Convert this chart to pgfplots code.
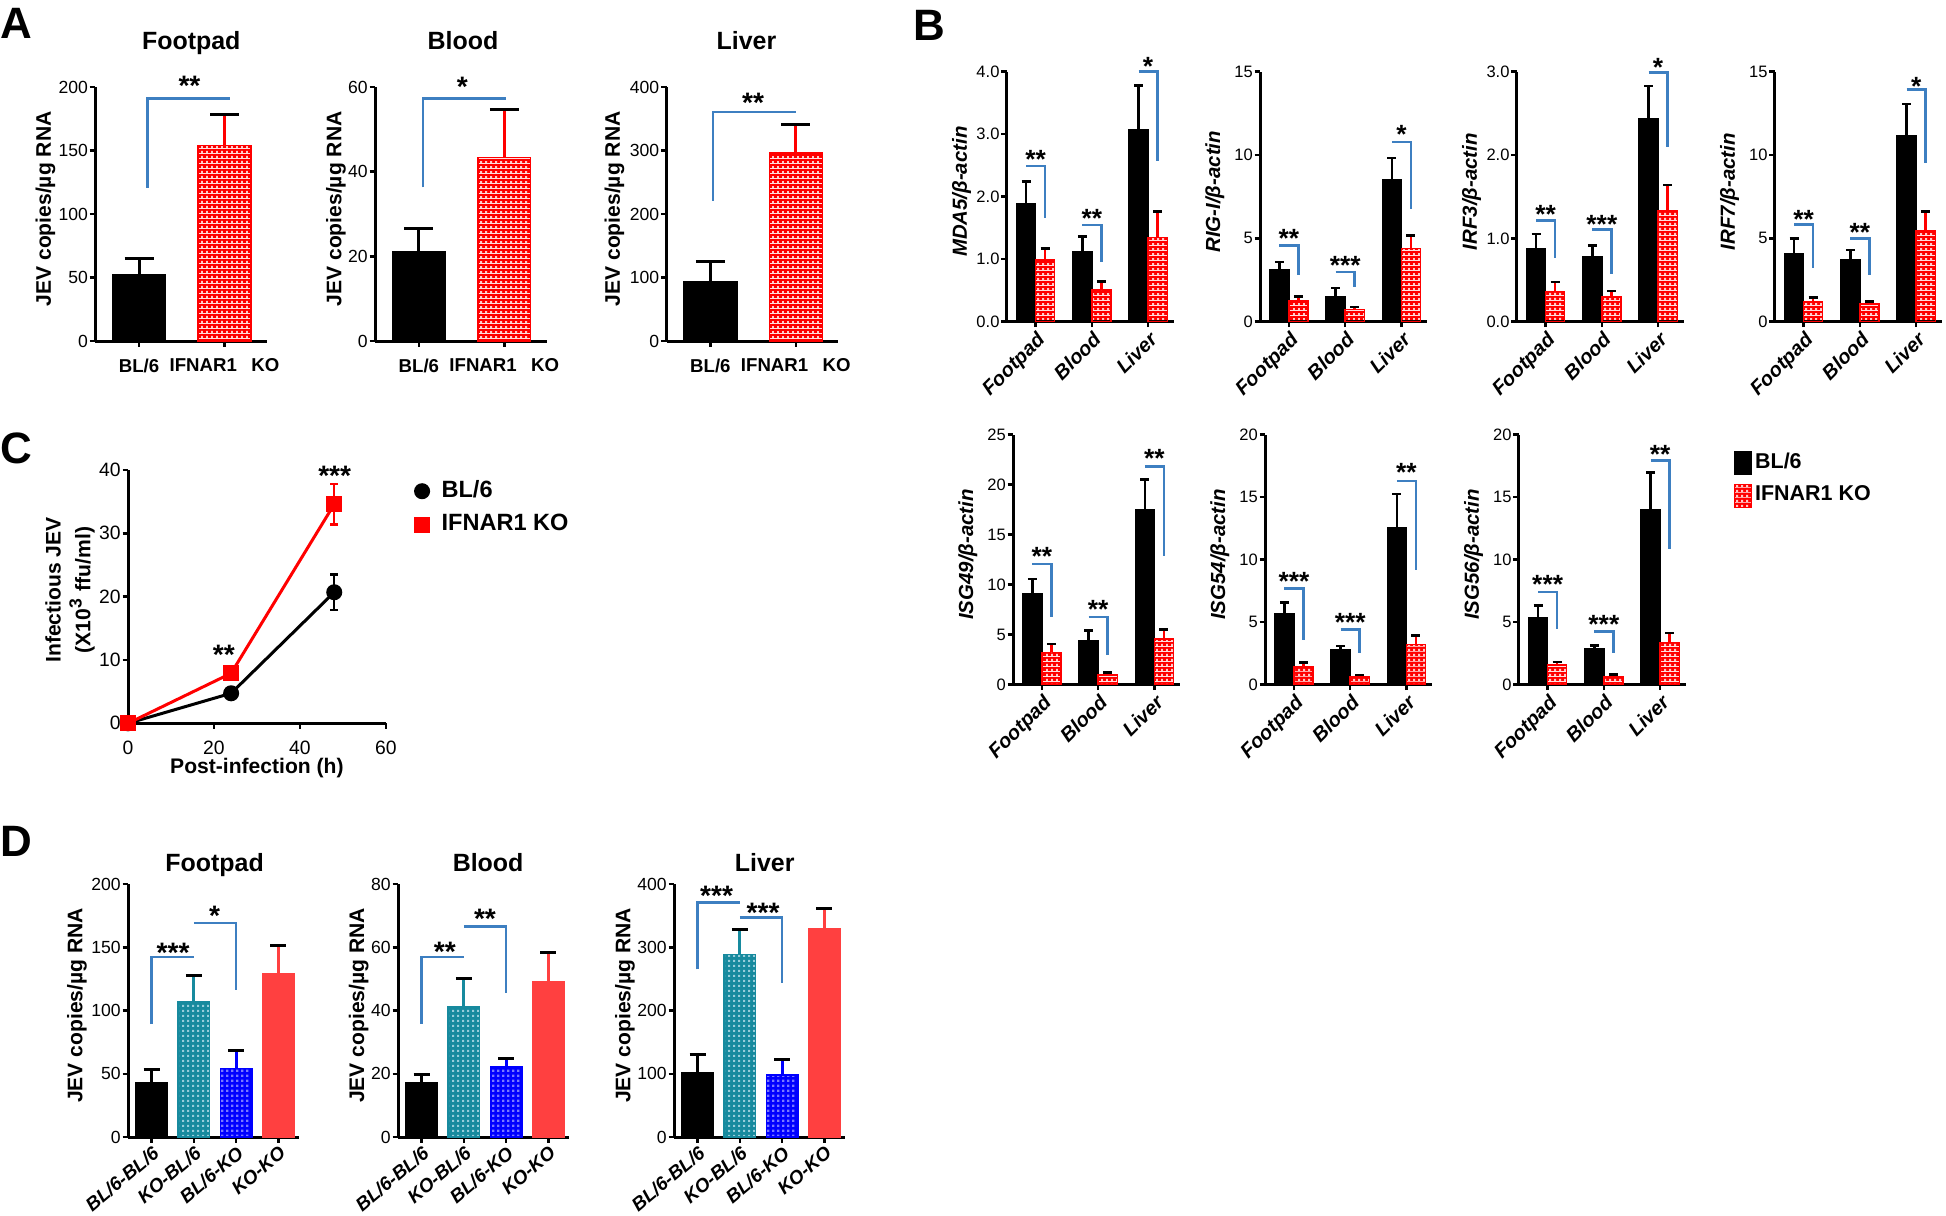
\documentclass[border=0pt]{standalone}
\usepackage{fontspec}
\setmainfont{Liberation Sans}
\usepackage{pgfplots}
\pgfplotsset{compat=1.18}
\usetikzlibrary{patterns}

\newcommand{\fs}[1]{\fontsize{#1pt}{#1pt}\selectfont}

\definecolor{brk}{RGB}{61,127,193}
\definecolor{tealb}{RGB}{23,138,158}
\definecolor{dred}{RGB}{255,64,64}
\definecolor{dblue}{RGB}{0,0,255}
\definecolor{redl}{RGB}{255,200,200}
\definecolor{teall}{RGB}{150,205,218}
\definecolor{bluel}{RGB}{120,120,255}

% checkered fills (colour + light squares)
\pgfdeclarepatterninherentlycolored{redchk}{\pgfpointorigin}{\pgfqpoint{1.3pt}{1.3pt}}{\pgfqpoint{1.3pt}{1.3pt}}{%
  \pgfsetfillcolor{red}\pgfpathrectangle{\pgfpointorigin}{\pgfqpoint{1.3pt}{1.3pt}}\pgfusepath{fill}%
  \pgfsetfillcolor{redl}\pgfpathrectangle{\pgfpointorigin}{\pgfqpoint{0.62pt}{0.62pt}}\pgfusepath{fill}}
\pgfdeclarepatterninherentlycolored{tealchk}{\pgfpointorigin}{\pgfqpoint{1.4pt}{1.4pt}}{\pgfqpoint{1.4pt}{1.4pt}}{%
  \pgfsetfillcolor{tealb}\pgfpathrectangle{\pgfpointorigin}{\pgfqpoint{1.4pt}{1.4pt}}\pgfusepath{fill}%
  \pgfsetfillcolor{teall}\pgfpathrectangle{\pgfpointorigin}{\pgfqpoint{0.62pt}{0.62pt}}\pgfusepath{fill}}
\pgfdeclarepatterninherentlycolored{bluechk}{\pgfpointorigin}{\pgfqpoint{1.4pt}{1.4pt}}{\pgfqpoint{1.4pt}{1.4pt}}{%
  \pgfsetfillcolor{dblue}\pgfpathrectangle{\pgfpointorigin}{\pgfqpoint{1.4pt}{1.4pt}}\pgfusepath{fill}%
  \pgfsetfillcolor{bluel}\pgfpathrectangle{\pgfpointorigin}{\pgfqpoint{0.65pt}{0.65pt}}\pgfusepath{fill}}

\tikzset{
  brk/.style={draw=brk, line width=0.25mm},
  stA/.style={font=\fs{8}\bfseries, anchor=base, inner sep=0pt, yshift=-1.63mm},
  stB/.style={font=\fs{7.5}\bfseries, anchor=base, inner sep=0pt, yshift=-1.53mm},
  plet/.style={font=\fs{12.5}\bfseries, anchor=north west, inner sep=0pt},
}

\pgfplotsset{
  com/.style={scale only axis, axis lines=left, axis line style={-,line width=0.3mm},
    tick align=outside, major tick length=0.55mm, tick style={black,line width=0.25mm},
    clip=false, /pgf/number format/assume math mode=true,
    tick label style={font=\fs{5}}, yticklabel style={inner sep=0.3pt}, ymin=0,
    every axis title shift=0pt,
    title style={anchor=base, font=\fs{7.1}\bfseries},
    ylabel style={anchor=center, font=\fs{6}\bfseries}},
  bars/.style={ybar, every axis plot/.append style={/pgfplots/error bars/y dir=plus, /pgfplots/error bars/y explicit}},
  pA/.style={com, bars, width=17.15mm, height=25.4mm, xmin=-0.514, xmax=1.494,
    xtick={0,1}, xticklabels={BL/6,IFNAR1\hspace{0.78em}KO},
    xticklabel style={font=\fs{5.3}\bfseries}, bar width=0.62,
    ylabel={JEV copies/µg RNA},
    every axis plot/.append style={/pgfplots/error bars/error bar style={line width=0.3mm},
      /pgfplots/error bars/error mark options={rotate=90,mark size=1.45mm,line width=0.3mm}}},
  pB/.style={com, bars, width=16.7mm, height=25.0mm, xmin=-0.514, xmax=2.455,
    xtick={0,1,2}, xticklabels={Footpad,Blood,Liver},
    tick label style={font=\fs{4.7}},
    xticklabel style={rotate=45, anchor=north east, inner sep=0.5pt, font=\fs{5.7}\bfseries\itshape},
    ylabel style={font=\fs{5.8}\bfseries\itshape, at={(axis description cs:-0.27,0.52)}},
    bar width=0.34,
    every axis plot/.append style={/pgfplots/error bars/error bar style={line width=0.25mm},
      /pgfplots/error bars/error mark options={rotate=90,mark size=0.45mm,line width=0.25mm}}},
  pD/.style={com, bars, width=17.1mm, height=25.3mm, xmin=-0.556, xmax=3.487,
    xtick={0,1,2,3}, xticklabels={BL/6-BL/6,KO-BL/6,BL/6-KO,KO-KO},
    xticklabel style={rotate=40, anchor=north east, inner sep=0.3pt, font=\fs{5.4}\bfseries\itshape},
    bar width=0.745, ylabel={JEV copies/µg RNA},
    every axis plot/.append style={/pgfplots/error bars/error bar style={line width=0.3mm},
      /pgfplots/error bars/error mark options={rotate=90,mark size=0.8mm,line width=0.3mm}}},
  dec1/.style={yticklabel style={/pgf/number format/.cd, fixed, fixed zerofill, precision=1}},
}

\begin{document}
\begin{tikzpicture}
\path (0,0) rectangle (194.6mm,-121.5mm);

\node[plet] at (0mm,-0.8mm) {A};
\node[plet] at (91.3mm,-1.0mm) {B};
\node[plet] at (0mm,-43.2mm) {C};
\node[plet] at (0mm,-82.6mm) {D};

% ---------- A ----------
\begin{axis}[pA, at={(9.52mm,-8.7mm)}, anchor=north west, ymax=200, ytick={0,50,100,150,200},
  title=Footpad, title style={at={(axis description cs:0.56,1.146)}},
  ylabel style={at={(axis description cs:-0.29,0.52)}}]
\addplot[fill=black, draw=black, bar shift=0] coordinates {(0,52.6) +- (0,12.4)};
\addplot[pattern=redchk, draw=red, bar shift=0] coordinates {(1,154) +- (0,24.7)};
\draw[brk] (axis cs:0.1,120.8) |- (axis cs:1.07,191);
\node[stA] at (axis cs:0.59,205.8) {**};
\end{axis}

\begin{axis}[pA, at={(37.5mm,-8.7mm)}, anchor=north west, ymax=60, ytick={0,20,40,60},
  title=Blood, title style={at={(axis description cs:0.513,1.146)}},
  ylabel style={at={(axis description cs:-0.227,0.52)}}]
\addplot[fill=black, draw=black, bar shift=0] coordinates {(0,21.2) +- (0,5.4)};
\addplot[pattern=redchk, draw=red, bar shift=0] coordinates {(1,43.3) +- (0,11.5)};
\draw[brk] (axis cs:0.05,36.3) |- (axis cs:1.02,57.3);
\node[stA] at (axis cs:0.51,61.7) {*};
\end{axis}

\begin{axis}[pA, at={(66.65mm,-8.7mm)}, anchor=north west, ymax=400, ytick={0,100,200,300,400},
  title=Liver, title style={at={(axis description cs:0.466,1.146)}},
  ylabel style={at={(axis description cs:-0.303,0.52)}}]
\addplot[fill=black, draw=black, bar shift=0] coordinates {(0,92.7) +- (0,32.3)};
\addplot[pattern=redchk, draw=red, bar shift=0] coordinates {(1,296) +- (0,45)};
\draw[brk] (axis cs:0.03,221) |- (axis cs:1.0,361);
\node[stA] at (axis cs:0.5,386) {**};
\end{axis}

% ---------- B, row 1 ----------
\begin{axis}[pB, dec1, at={(100.67mm,-7.17mm)}, anchor=north west, ymax=4, ytick={0,1,2,3,4},
  ylabel={MDA5/β-actin}]
\addplot[fill=black, draw=black, bar shift=-0.17] coordinates {(0,1.89) +- (0,0.35) (1,1.12) +- (0,0.24) (2,3.07) +- (0,0.71)};
\addplot[pattern=redchk, draw=red, bar shift=0.17] coordinates {(0,0.99) +- (0,0.18) (1,0.505) +- (0,0.135) (2,1.35) +- (0,0.41)};
\draw[brk] (axis cs:-0.17,2.49) -| (axis cs:0.17,1.66);
\draw[brk] (axis cs:0.83,1.55) -| (axis cs:1.17,0.95);
\draw[brk] (axis cs:1.83,4.0) -| (axis cs:2.17,2.57);
\node[stB] at (axis cs:0,2.7) {**};
\node[stB] at (axis cs:1,1.76) {**};
\node[stB] at (axis cs:2,4.19) {*};
\end{axis}

\begin{axis}[pB, at={(126.0mm,-7.17mm)}, anchor=north west, ymax=15, ytick={0,5,10,15},
  ylabel={RIG-I/β-actin}]
\addplot[fill=black, draw=black, bar shift=-0.17] coordinates {(0,3.14) +- (0,0.44) (1,1.5) +- (0,0.52) (2,8.5) +- (0,1.32)};
\addplot[pattern=redchk, draw=red, bar shift=0.17] coordinates {(0,1.26) +- (0,0.24) (1,0.72) +- (0,0.16) (2,4.4) +- (0,0.78)};
\draw[brk] (axis cs:-0.17,4.56) -| (axis cs:0.17,2.78);
\draw[brk] (axis cs:0.83,2.98) -| (axis cs:1.17,2.1);
\draw[brk] (axis cs:1.83,10.78) -| (axis cs:2.17,6.78);
\node[stB] at (axis cs:0,5.36) {**};
\node[stB] at (axis cs:1,3.78) {***};
\node[stB] at (axis cs:2,11.6) {*};
\end{axis}

\begin{axis}[pB, dec1, at={(151.67mm,-7.17mm)}, anchor=north west, ymax=3, ytick={0,1,2,3},
  ylabel={IRF3/β-actin}]
\addplot[fill=black, draw=black, bar shift=-0.17] coordinates {(0,0.88) +- (0,0.17) (1,0.784) +- (0,0.132) (2,2.44) +- (0,0.39)};
\addplot[pattern=redchk, draw=red, bar shift=0.17] coordinates {(0,0.364) +- (0,0.112) (1,0.296) +- (0,0.072) (2,1.33) +- (0,0.31)};
\draw[brk] (axis cs:-0.17,1.216) -| (axis cs:0.17,0.768);
\draw[brk] (axis cs:0.83,1.104) -| (axis cs:1.17,0.572);
\draw[brk] (axis cs:1.83,2.99) -| (axis cs:2.17,2.1);
\node[stB] at (axis cs:0,1.36) {**};
\node[stB] at (axis cs:1,1.24) {***};
\node[stB] at (axis cs:2,3.13) {*};
\end{axis}

\begin{axis}[pB, at={(177.47mm,-7.17mm)}, anchor=north west, ymax=15, ytick={0,5,10,15},
  ylabel={IRF7/β-actin}]
\addplot[fill=black, draw=black, bar shift=-0.17] coordinates {(0,4.1) +- (0,0.88) (1,3.74) +- (0,0.56) (2,11.14) +- (0,1.92)};
\addplot[pattern=redchk, draw=red, bar shift=0.17] coordinates {(0,1.2) +- (0,0.26) (1,1.06) +- (0,0.14) (2,5.44) +- (0,1.16)};
\draw[brk] (axis cs:-0.17,5.82) -| (axis cs:0.17,3.2);
\draw[brk] (axis cs:0.83,5.0) -| (axis cs:1.17,2.78);
\draw[brk] (axis cs:1.83,13.92) -| (axis cs:2.17,9.5);
\node[stB] at (axis cs:0,6.52) {**};
\node[stB] at (axis cs:1,5.72) {**};
\node[stB] at (axis cs:2,14.52) {*};
\end{axis}

% ---------- B, row 2 ----------
\begin{axis}[pB, at={(101.3mm,-43.45mm)}, anchor=north west, ymax=25, ytick={0,5,10,15,20,25},
  ylabel={ISG49/β-actin}]
\addplot[fill=black, draw=black, bar shift=-0.17] coordinates {(0,9.08) +- (0,1.49) (1,4.42) +- (0,0.97) (2,17.52) +- (0,2.98)};
\addplot[pattern=redchk, draw=red, bar shift=0.17] coordinates {(0,3.22) +- (0,0.84) (1,0.96) +- (0,0.24) (2,4.55) +- (0,0.94)};
\draw[brk] (axis cs:-0.17,12.07) -| (axis cs:0.17,6.8);
\draw[brk] (axis cs:0.83,6.75) -| (axis cs:1.17,3.0);
\draw[brk] (axis cs:1.83,21.8) -| (axis cs:2.17,12.9);
\node[stB] at (axis cs:0,13.4) {**};
\node[stB] at (axis cs:1,8.15) {**};
\node[stB] at (axis cs:2,23.2) {**};
\end{axis}

\begin{axis}[pB, at={(126.5mm,-43.45mm)}, anchor=north west, ymax=20, ytick={0,5,10,15,20},
  ylabel={ISG54/β-actin}]
\addplot[fill=black, draw=black, bar shift=-0.17] coordinates {(0,5.69) +- (0,0.88) (1,2.79) +- (0,0.3) (2,12.53) +- (0,2.71)};
\addplot[pattern=redchk, draw=red, bar shift=0.17] coordinates {(0,1.46) +- (0,0.32) (1,0.585) +- (0,0.16) (2,3.19) +- (0,0.72)};
\draw[brk] (axis cs:-0.17,7.69) -| (axis cs:0.17,3.56);
\draw[brk] (axis cs:0.83,4.39) -| (axis cs:1.17,2.53);
\draw[brk] (axis cs:1.83,16.28) -| (axis cs:2.17,9.18);
\node[stB] at (axis cs:0,8.78) {***};
\node[stB] at (axis cs:1,5.43) {***};
\node[stB] at (axis cs:2,17.47) {**};
\end{axis}

\begin{axis}[pB, at={(151.87mm,-43.45mm)}, anchor=north west, ymax=20, ytick={0,5,10,15,20},
  ylabel={ISG56/β-actin},
  legend style={at={(axis description cs:1.283,0.945)}, anchor=north west, draw=none, fill=none,
    inner sep=0pt, font=\fs{6.1}\bfseries, row sep=0.55mm, nodes={inner sep=0.35mm}},
  legend cell align=left,
  legend image code/.code={\draw[#1,line width=0.1mm] (0mm,-1.15mm) rectangle (1.7mm,1.15mm);}]
\addplot[fill=black, draw=black, bar shift=-0.17] coordinates {(0,5.33) +- (0,1.01) (1,2.84) +- (0,0.29) (2,13.98) +- (0,2.97)};
\addlegendentry{BL/6}
\addplot[pattern=redchk, draw=red, bar shift=0.17] coordinates {(0,1.56) +- (0,0.24) (1,0.64) +- (0,0.18) (2,3.37) +- (0,0.74)};
\addlegendentry{IFNAR1 KO}
\draw[brk] (axis cs:-0.17,7.4) -| (axis cs:0.17,4.43);
\draw[brk] (axis cs:0.83,4.24) -| (axis cs:1.17,2.49);
\draw[brk] (axis cs:1.83,17.93) -| (axis cs:2.17,10.88);
\node[stB] at (axis cs:0,8.49) {***};
\node[stB] at (axis cs:1,5.3) {***};
\node[stB] at (axis cs:2,18.94) {**};
\end{axis}

% ---------- C ----------
\begin{axis}[com, at={(12.8mm,-47.0mm)}, anchor=north west, width=25.78mm, height=25.33mm,
  xmin=0, xmax=60, ymax=40, xtick={0,20,40,60}, ytick={0,10,20,30,40},
  tick label style={font=\fs{5.5}},
  xlabel={Post-infection (h)},
  xlabel style={font=\fs{6}\bfseries, at={(axis description cs:0.5,-0.135)}, anchor=north, inner sep=0pt},
  ylabel={Infectious JEV\\(X10\textsuperscript{3} ffu/ml)},
  ylabel style={align=center, font=\fontsize{6pt}{8.5pt}\selectfont\bfseries, at={(axis description cs:-0.225,0.526)}},
  legend style={at={(axis description cs:1.105,0.975)}, anchor=north west, draw=none, fill=none,
    inner sep=0pt, font=\fs{6.7}\bfseries, row sep=0.6mm, nodes={inner sep=0.3mm}},
  legend cell align=left,
  legend image code/.code={\path[#1] plot[only marks] coordinates {(0.7mm,0mm)}; \path (0mm,0mm) (2.2mm,0mm);}]
\addplot[black, line width=0.3mm, mark=*, mark size=0.65mm,
  error bars/.cd, y dir=both, y explicit, error bar style={line width=0.25mm},
  error mark options={rotate=90,mark size=0.4mm,line width=0.25mm}]
  coordinates {(0,0) +- (0,0) (24,4.74) +- (0,0.3) (48,20.7) +- (0,2.8)};
\addlegendentry{BL/6}
\addplot[red, line width=0.3mm, mark=square*, mark size=0.65mm,
  error bars/.cd, y dir=both, y explicit, error bar style={line width=0.25mm},
  error mark options={rotate=90,mark size=0.4mm,line width=0.25mm}]
  coordinates {(0,0) +- (0,0) (24,7.9) +- (0,0.9) (48,34.6) +- (0,3.2)};
\addlegendentry{IFNAR1 KO}
\node[stA] at (axis cs:22.3,11.8) {**};
\node[stA] at (axis cs:48.1,40.1) {***};
\end{axis}

% ---------- D ----------
\begin{axis}[pD, at={(12.8mm,-88.4mm)}, anchor=north west, ymax=200, ytick={0,50,100,150,200},
  title=Footpad, title style={at={(axis description cs:0.506,1.05)}},
  ylabel style={at={(axis description cs:-0.298,0.52)}}]
\addplot[fill=black, draw=black, bar shift=0] coordinates {(0,43) +- (0,10.6)};
\addplot[pattern=tealchk, draw=tealb, bar shift=0] coordinates {(1,106.9) +- (0,20.8)};
\addplot[pattern=bluechk, draw=dblue, bar shift=0] coordinates {(2,54.1) +- (0,14.5)};
\addplot[fill=dred, draw=dred, bar shift=0] coordinates {(3,129) +- (0,22.2)};
\draw[brk] (axis cs:0,89.2) |- (axis cs:1,142.5);
\draw[brk] (axis cs:1,169) -| (axis cs:2,116.4);
\node[stA] at (axis cs:0.51,151) {***};
\node[stA] at (axis cs:1.49,180) {*};
\end{axis}

\begin{axis}[pD, at={(39.8mm,-88.4mm)}, anchor=north west, ymax=80, ytick={0,20,40,60,80},
  title=Blood, title style={at={(axis description cs:0.527,1.05)}},
  ylabel style={at={(axis description cs:-0.229,0.52)}}]
\addplot[fill=black, draw=black, bar shift=0] coordinates {(0,17.2) +- (0,2.7)};
\addplot[pattern=tealchk, draw=tealb, bar shift=0] coordinates {(1,41.1) +- (0,8.95)};
\addplot[pattern=bluechk, draw=dblue, bar shift=0] coordinates {(2,22.2) +- (0,2.7)};
\addplot[fill=dred, draw=dred, bar shift=0] coordinates {(3,49.1) +- (0,9.1)};
\draw[brk] (axis cs:0,35.8) |- (axis cs:1,56.9);
\draw[brk] (axis cs:1,66.6) -| (axis cs:2,45.5);
\node[stA] at (axis cs:0.55,60.5) {**};
\node[stA] at (axis cs:1.5,71) {**};
\end{axis}

\begin{axis}[pD, at={(67.4mm,-88.4mm)}, anchor=north west, ymax=400, ytick={0,100,200,300,400},
  title=Liver, title style={at={(axis description cs:0.53,1.05)}},
  ylabel style={at={(axis description cs:-0.287,0.52)}}]
\addplot[fill=black, draw=black, bar shift=0] coordinates {(0,102) +- (0,29)};
\addplot[pattern=tealchk, draw=tealb, bar shift=0] coordinates {(1,289) +- (0,39)};
\addplot[pattern=bluechk, draw=dblue, bar shift=0] coordinates {(2,97.9) +- (0,25.1)};
\addplot[fill=dred, draw=dred, bar shift=0] coordinates {(3,330) +- (0,31.6)};
\draw[brk] (axis cs:0,265) |- (axis cs:1,371);
\draw[brk] (axis cs:1,347) -| (axis cs:2,243);
\node[stA] at (axis cs:0.45,391.6) {***};
\node[stA] at (axis cs:1.55,365) {***};
\end{axis}
\end{tikzpicture}
\end{document}
